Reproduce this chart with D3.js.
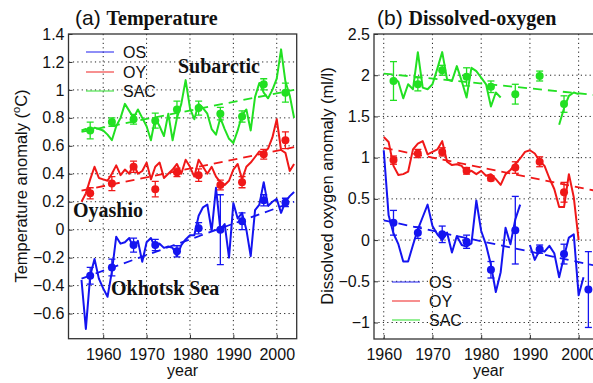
<!DOCTYPE html>
<html><head><meta charset="utf-8">
<script src="https://cdn.jsdelivr.net/npm/d3@7"></script>
<style>
html,body{margin:0;padding:0;background:#fff;}
svg{display:block;}
</style></head>
<body>
<svg id="chart" width="593" height="383"></svg>
<script>
// ---------- Panel (a) Temperature ----------
const tempYears = [1955,1956,1957,1958,1959,1960,1961,1962,1963,1964,1965,1966,1967,1968,1969,1970,1971,1972,1973,1974,1975,1976,1977,1978,1979,1980,1981,1982,1983,1984,1985,1986,1987,1988,1989,1990,1991,1992,1993,1994,1995,1996,1997,1998,1999,2000,2001,2002,2003,2004];
const tempOS  = [-0.36,-0.71,-0.33,-0.21,-0.35,-0.42,-0.48,-0.30,-0.05,-0.10,-0.09,-0.06,-0.13,-0.08,-0.23,-0.09,-0.06,-0.13,-0.10,-0.13,-0.12,-0.13,-0.19,-0.11,-0.07,-0.04,-0.04,0.10,0.16,0.18,-0.01,0.30,0.00,0.04,-0.20,0.19,0.08,0.12,0.00,-0.19,0.14,0.18,0.34,0.17,0.20,0.22,0.12,0.20,0.24,0.27];
const tempOY  = [0.20,0.26,0.36,0.45,0.37,0.36,0.35,0.40,0.46,0.39,0.43,0.40,0.47,0.40,0.42,0.48,0.36,0.45,0.48,0.37,0.40,0.43,0.47,0.40,0.50,0.45,0.38,0.50,0.45,0.40,0.45,0.38,0.34,0.32,0.35,0.43,0.47,0.36,0.45,0.48,0.52,0.56,0.55,0.58,0.66,0.79,0.57,0.55,0.42,0.47];
const tempSAC = [0.71,0.72,0.70,0.73,0.72,0.71,0.68,0.64,0.74,0.80,0.90,0.85,0.80,0.86,0.80,0.74,0.64,0.80,0.74,0.67,0.83,0.64,0.80,0.90,1.07,0.87,0.79,0.90,0.87,0.83,0.72,0.68,0.80,0.72,0.65,0.62,0.71,0.82,0.86,0.71,0.95,1.05,0.98,0.94,1.00,1.08,1.29,1.06,0.96,0.80];
const tempTrendYears = [1955, 2004];
const tempTrendOS  = [-0.35, 0.20];
const tempTrendOY  = [0.28, 0.59];
const tempTrendSAC = [0.70, 1.00];
const tempDotYears = [1957,1962,1967,1972,1977,1982,1987,1992,1997,2002];
const tempDotOS  = [-0.33,-0.27,-0.11,-0.11,-0.155,0.01,0.00,0.06,0.21,0.195];
const tempErrOS  = [0.06,0.06,0.05,0.04,0.04,0.04,0.25,0.06,0.04,0.03];
const tempDotOY  = [0.26,0.33,0.45,0.29,0.41,0.39,0.32,0.34,0.54,0.64];
const tempErrOY  = [0.04,0.05,0.04,0.055,0.03,0.045,0.035,0.04,0.035,0.06];
const tempDotSAC = [0.71,0.77,0.79,0.78,0.86,0.87,0.83,0.81,1.04,0.98];
const tempErrSAC = [0.06,0.03,0.035,0.054,0.06,0.05,0.045,0.04,0.04,0.068];
const tempYTicks = [-0.6,-0.4,-0.2,0,0.2,0.4,0.6,0.8,1,1.2,1.4];
const tempXTicks = [1960,1970,1980,1990,2000];

// ---------- Panel (b) Dissolved oxygen ----------
const doYears = [1960,1961,1962,1963,1964,1965,1966,1967,1968,1969,1970,1971,1972,1973,1974,1975,1976,1977,1978,1979,1980,1981,1982,1983,1984,1985,1986,1987,1988,1989,1990,1991,1992,1993,1994,1995,1996,1997,1998,1999,2000,2001];
const doOS  = [1.09,0.30,0.08,-0.05,-0.26,-0.26,-0.06,0.13,0.28,0.43,0.17,0.07,0.00,0.09,-0.15,0.05,-0.06,-0.08,-0.04,0.48,0.11,-0.06,-0.30,-0.63,-0.39,0.15,-0.05,0.25,0.43,null,-0.06,-0.24,-0.12,-0.14,-0.07,-0.16,-0.45,-0.20,0.03,0.07,-0.67,-0.45];
const doOY  = [1.25,1.19,0.90,0.79,0.80,0.83,1.10,1.17,1.20,1.04,1.07,1.10,1.20,0.95,0.91,0.92,0.90,0.82,0.84,0.80,0.84,0.78,0.80,0.74,0.67,0.80,0.85,0.92,0.99,1.07,1.09,1.05,0.96,0.90,0.75,0.62,0.40,0.40,0.80,0.52,0.00,null];
const doSAC = [null,null,1.97,1.92,1.72,1.89,1.83,2.28,1.85,1.83,1.89,2.08,2.28,1.95,1.93,2.11,1.93,1.73,2.09,2.05,1.97,1.89,1.62,1.79,1.73,null,null,null,null,null,null,null,null,null,null,null,1.40,1.60,1.75,1.79,1.77,null];
const doTrendYears = [1960, 2005];
const doTrendOS  = [0.24, -0.33];
const doTrendOY  = [1.12, 0.58];
const doTrendSAC = [2.02, 1.75];
const doDotYears = [1962,1967,1972,1977,1982,1987,1992,1997,2002];
const doDotOS  = [0.21,0.09,0.07,-0.02,-0.36,0.12,-0.11,-0.17,-0.60];
const doErrOS  = [0.15,0.07,0.10,0.08,0.10,0.41,0.05,0.12,0.46];
const doDotOY  = [0.97,1.05,1.07,0.84,0.75,0.88,0.95,0.58,null];
const doErrOY  = [0.05,0.05,0.05,0.04,0.03,0.07,0.06,0.12,null];
const doDotSAC = [1.93,1.89,2.06,1.98,1.86,1.77,1.99,1.65,null];
const doErrSAC = [0.235,0.08,0.06,0.11,0.07,0.12,0.06,0.10,null];
const doYTicks = [-1,-0.5,0,0.5,1,1.5,2,2.5];
const doXTicks = [1960,1970,1980,1990,2000];

const seriesNames = ["OS","OY","SAC"];
const colors = {OS:"#1414f0", OY:"#f01818", SAC:"#22e022"};

const svg = d3.select("#chart");
const fmt = v => (v < 0 ? "\u2212" : "") + String(Math.abs(v));
const sans = "Liberation Sans, Arial, sans-serif", serif = "Liberation Serif, Times New Roman, serif";

function drawPanel(o) {
  const x = d3.scaleLinear().domain(o.xDomain).range([o.left, o.right]);
  const y = d3.scaleLinear().domain(o.yDomain).range([o.bottom, o.top]);
  const g = svg.append("g");
  const clipId = "clip" + o.id;
  svg.append("clipPath").attr("id", clipId).append("rect")
    .attr("x", o.left).attr("y", o.top).attr("width", o.right - o.left).attr("height", o.bottom - o.top);

  // grid
  const grid = g.append("g").attr("stroke", "#222").attr("stroke-width", 1).attr("stroke-dasharray", "1.2,3.2");
  o.xTicks.forEach(t => grid.append("line").attr("x1", x(t)).attr("x2", x(t)).attr("y1", o.top).attr("y2", o.bottom));
  o.yTicks.forEach(t => { if (y(t) > o.top + 1 && y(t) < o.bottom - 1)
    grid.append("line").attr("x1", o.left).attr("x2", o.right).attr("y1", y(t)).attr("y2", y(t)); });

  // axes (ticks inward)
  const xa = g.append("g").attr("transform", `translate(0,${o.bottom})`)
    .call(d3.axisBottom(x).tickValues(o.xTicks).tickSize(-4).tickPadding(10).tickFormat(d3.format("d")));
  const ya = g.append("g").attr("transform", `translate(${o.left},0)`)
    .call(d3.axisLeft(y).tickValues(o.yTicks).tickSize(-4).tickPadding(4).tickFormat(fmt));
  [xa, ya].forEach(a => {
    a.select(".domain").remove();
    a.selectAll("line").attr("stroke", "#333");
    a.selectAll("text").attr("font-family", sans).attr("font-size", 16).attr("fill", "#111");
  });

  const data = g.append("g").attr("clip-path", `url(#${clipId})`);
  seriesNames.forEach(name => {
    const col = colors[name];
    const vals = o.series[name];
    const pts = o.years.map((yr, i) => ({yr, v: vals[i]}));
    const line = d3.line().defined(d => d.v != null).x(d => x(d.yr)).y(d => y(d.v));
    data.append("path").datum(pts).attr("d", line).attr("fill", "none")
      .attr("stroke", col).attr("stroke-width", 2).attr("stroke-linejoin", "round");
    const tr = o.trendYears.map((yr, i) => ({yr, v: o.trends[name][i]}));
    data.append("path").datum(tr).attr("d", line).attr("fill", "none")
      .attr("stroke", col).attr("stroke-width", 1.8).attr("stroke-dasharray", "9,6");
    const dots = o.dotYears.map((yr, i) => ({yr, v: o.dots[name][i], e: o.errs[name][i]})).filter(d => d.v != null);
    const eb = data.append("g").attr("stroke", col).attr("stroke-width", 1.3);
    dots.forEach(d => {
      eb.append("line").attr("x1", x(d.yr)).attr("x2", x(d.yr)).attr("y1", y(d.v - d.e)).attr("y2", y(d.v + d.e));
      eb.append("line").attr("x1", x(d.yr) - 3.5).attr("x2", x(d.yr) + 3.5).attr("y1", y(d.v - d.e)).attr("y2", y(d.v - d.e));
      eb.append("line").attr("x1", x(d.yr) - 3.5).attr("x2", x(d.yr) + 3.5).attr("y1", y(d.v + d.e)).attr("y2", y(d.v + d.e));
    });
    data.selectAll(null).data(dots).enter().append("circle")
      .attr("cx", d => x(d.yr)).attr("cy", d => y(d.v)).attr("r", 4).attr("fill", col);
  });

  // box
  g.append("rect").attr("x", o.left).attr("y", o.top).attr("width", o.right - o.left).attr("height", o.bottom - o.top)
    .attr("fill", "none").attr("stroke", "#333").attr("stroke-width", 1.3);

  // legend
  seriesNames.forEach((name, i) => {
    const ly = o.legendY[i];
    g.append("line").attr("x1", o.legendX).attr("x2", o.legendX + 28).attr("y1", ly).attr("y2", ly)
      .attr("stroke", colors[name]).attr("stroke-width", 1.2).attr("opacity", 0.8);
    g.append("text").attr("x", o.legendX + 37).attr("y", ly + 6).text(name)
      .attr("font-family", sans).attr("font-size", 16).attr("fill", "#111");
  });

  // x label
  g.append("text").attr("x", (o.left + o.right) / 2).attr("y", 376).attr("text-anchor", "middle")
    .attr("font-family", sans).attr("font-size", 16).attr("fill", "#111").text("year");
  return {x, y, g};
}

drawPanel({
  id: "a", left: 68.5, right: 296.7, top: 34, bottom: 338.7,
  xDomain: [1952, 2004.6], yDomain: [-0.78, 1.4],
  xTicks: tempXTicks, yTicks: tempYTicks,
  years: tempYears, series: {OS: tempOS, OY: tempOY, SAC: tempSAC},
  trendYears: tempTrendYears, trends: {OS: tempTrendOS, OY: tempTrendOY, SAC: tempTrendSAC},
  dotYears: tempDotYears, dots: {OS: tempDotOS, OY: tempDotOY, SAC: tempDotSAC},
  errs: {OS: tempErrOS, OY: tempErrOY, SAC: tempErrSAC},
  legendX: 86, legendY: [52, 72, 91]
});
drawPanel({
  id: "b", left: 374, right: 603, top: 34, bottom: 339,
  xDomain: [1958, 2005], yDomain: [-1.2, 2.5],
  xTicks: doXTicks, yTicks: doYTicks,
  years: doYears, series: {OS: doOS, OY: doOY, SAC: doSAC},
  trendYears: doTrendYears, trends: {OS: doTrendOS, OY: doTrendOY, SAC: doTrendSAC},
  dotYears: doDotYears, dots: {OS: doDotOS, OY: doDotOY, SAC: doDotSAC},
  errs: {OS: doErrOS, OY: doErrOY, SAC: doErrSAC},
  legendX: 392, legendY: [282, 301, 320]
});

// titles
function title(xp, label, name) {
  const t = svg.append("text").attr("x", xp).attr("y", 25).attr("fill", "#111");
  t.append("tspan").attr("font-family", sans).attr("font-size", 21).text(label + " ");
  t.append("tspan").attr("font-family", serif).attr("font-weight", "bold").attr("font-size", 20).text(name);
}
title(75, "(a)", "Temperature");
title(377, "(b)", "Dissolved-oxygen");

// region labels
[["Subarctic", 178, 73], ["Oyashio", 73, 217], ["Okhotsk Sea", 111, 295]].forEach(([t, xp, yp]) => {
  svg.append("text").attr("x", xp).attr("y", yp).attr("font-family", serif).attr("font-weight", "bold")
    .attr("font-size", 20).attr("fill", "#111").text(t);
});

// y labels
const yl1 = svg.append("text").attr("transform", "translate(27,186) rotate(-90)").attr("text-anchor", "middle")
  .attr("font-family", sans).attr("font-size", 16.5).attr("fill", "#111");
yl1.append("tspan").text("Temperature anomaly (");
yl1.append("tspan").attr("font-size", 11).attr("dy", -7).text("o");
yl1.append("tspan").attr("dy", 7).text("C)");
svg.append("text").attr("transform", "translate(333,186) rotate(-90)").attr("text-anchor", "middle")
  .attr("font-family", sans).attr("font-size", 16.5).attr("fill", "#111").text("Dissolved oxygen anomaly (ml/l)");
</script>
</body></html>
